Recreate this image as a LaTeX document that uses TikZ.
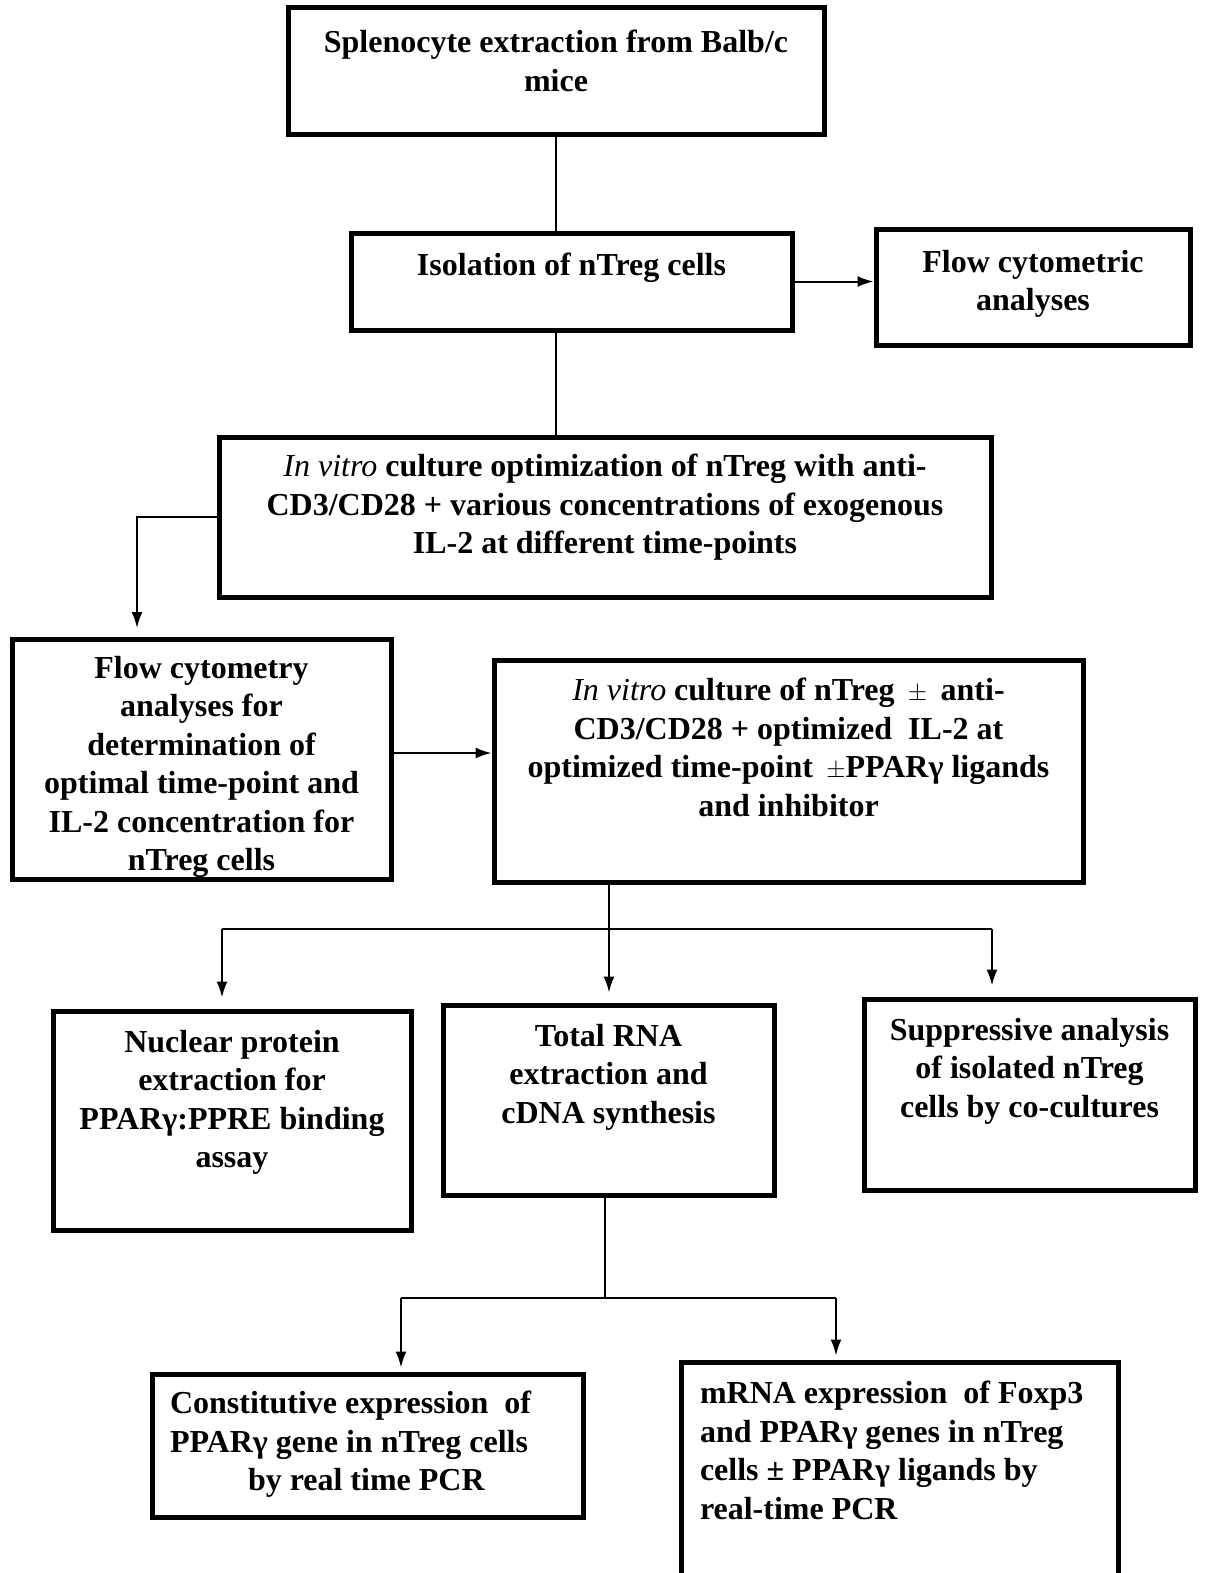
\documentclass[tikz,border=0pt]{standalone}
\usepackage{fontspec}
\setmainfont{Liberation Serif}
\usetikzlibrary{arrows.meta}
\newcommand{\boxtext}[4]{\parbox[c][#2pt][t]{#1pt}{\vspace*{#3pt}\centering #4}}
\newcommand{\boxtextleft}[5]{\parbox[c][#2pt][t]{#1pt}{\vspace*{#3pt}\raggedright\leftskip=#4pt #5}}
\newcommand{\invitro}{{\mdseries\itshape In vitro}}

\begin{document}
\begin{tikzpicture}[x=1pt, y=-1pt, line width=2pt, >={Latex[length=16pt,width=11pt]},
  box/.style={draw, line width=5pt, inner sep=0pt, font=\bfseries\fontsize{32}{38.5}\selectfont}]

    \path[use as bounding box, fill=white] (0,0) rectangle (1205,1573);
    \clip (0,0) rectangle (1205,1573);

    \node[box] (spleno) at (556,71.5) {\boxtext{536}{127}{22}{Splenocyte extraction from Balb/c\\mice}};
    \node[box] (iso) at (571.5,281.5) {\boxtext{441}{97}{20}{Isolation of nTreg cells}};
    \node[box] (flow) at (1033,287) {\boxtext{314}{116}{21}{Flow cytometric\\analyses}};
    \node[box] (opt) at (605,517) {\boxtext{772}{160}{17}{\invitro{} culture optimization of nTreg with anti-\\CD3/CD28 + various concentrations of exogenous\\IL-2 at different time-points}};
    \node[box] (fca) at (201.5,759) {\boxtext{379}{240}{17}{Flow cytometry\\analyses for\\determination of\\optimal time-point and\\IL-2 concentration for\\nTreg cells}};
    \node[box] (cult) at (788.5,771) {\boxtext{589}{222}{18}{\invitro{} culture of nTreg \,$\pm$\, anti-\\CD3/CD28 + optimized \ IL-2 at\\optimized time-point \,$\pm$PPARγ ligands\\and inhibitor}};
    \node[box] (nuc) at (232,1120.5) {\boxtext{358}{219}{19}{Nuclear protein\\extraction for\\PPARγ:PPRE binding\\assay}};
    \node[box] (rna) at (608.5,1100) {\boxtext{331}{190}{19}{Total RNA\\extraction and\\cDNA synthesis}};
    \node[box] (sup) at (1029.5,1094.5) {\boxtext{331}{191}{19}{Suppressive analysis\\of isolated nTreg\\cells by co-cultures}};
    \node[box] (con) at (367.5,1445.5) {\boxtextleft{431}{143}{17}{18}{Constitutive expression \ of\\PPARγ gene in nTreg cells\\\hspace*{78pt}by real time PCR}};
    \node[box] (mrna) at (899.5,1473.5) {\boxtextleft{437}{223}{19}{19}{mRNA expression \ of Foxp3\\and PPARγ genes in nTreg\\cells ± PPARγ ligands by\\real-time PCR}};

    \coordinate (fcatop) at (137,628);
    \coordinate (hub) at (609,929);
    \coordinate (hubL) at (222,929);
    \coordinate (hubR) at (992,929);
    \coordinate (hub2) at (605,1298);
    \coordinate (hub2L) at (401,1298);
    \coordinate (hub2R) at (836,1298);

    \draw (spleno.south) -- (spleno.south |- iso.north);
    \draw[->] (iso.east) -- (iso.east -| flow.west);
    \draw (spleno.south |- iso.south) -- (spleno.south |- opt.north);
    \draw[->] (opt.west) -| (fcatop);
    \draw[->] ([yshift=6pt]fca.east) -- ([yshift=6pt]fca.east -| cult.west);
    \draw[->] (cult.south -| hub) -- ([yshift=10pt]rna.north -| hub);
    \draw (hubL) -- (hubR);
    \draw[->] (hubL) -- ([yshift=11pt]nuc.north -| hubL);
    \draw[->] (hubR) -- ([yshift=11pt]sup.north -| hubR);
    \draw (rna.south -| hub2) -- (hub2);
    \draw (hub2L) -- (hub2R);
    \draw[->] (hub2L) -- ([yshift=4pt]con.north -| hub2L);
    \draw[->] (hub2R) -- ([yshift=4pt]mrna.north -| hub2R);

\end{tikzpicture}
\end{document}
